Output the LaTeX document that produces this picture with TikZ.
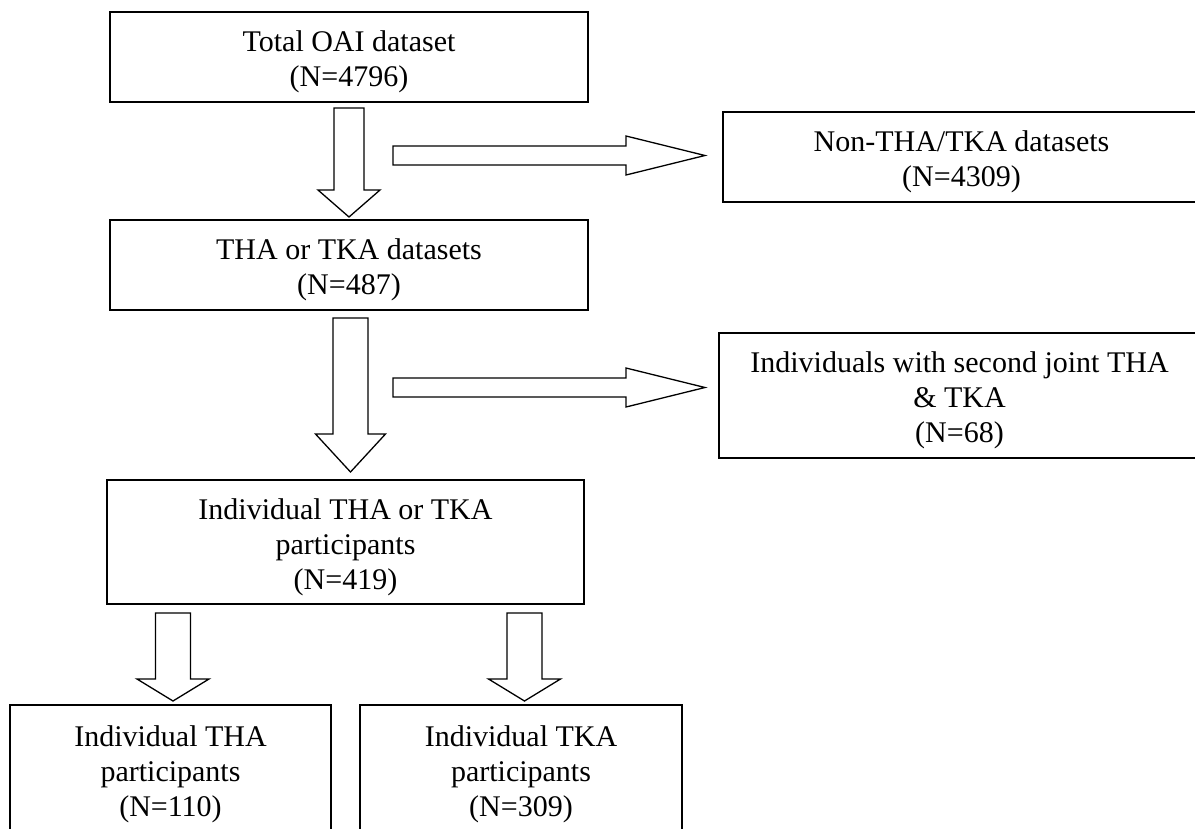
\documentclass[tikz,border=0pt]{standalone}
\usepackage{fontspec}
\setmainfont{Liberation Serif}
\newcommand\vblock[7]{% cx, half shaft, half head, top, head start, tip, name
  \draw[blockarrow] (#1-#2,#4) -- (#1+#2,#4) -- (#1+#2,#5) -- (#1+#3,#5) -- (#1,#6)
    -- (#1-#3,#5) -- (#1-#2,#5) -- cycle;}
\newcommand\hblock[6]{% cy, half shaft, half head, left, head start, tip
  \draw[blockarrow] (#4,#1-#2) -- (#5,#1-#2) -- (#5,#1-#3) -- (#6,#1) -- (#5,#1+#3)
    -- (#5,#1+#2) -- (#4,#1+#2) -- cycle;}
\newcommand\fl{\rule{0pt}{31pt}}
\begin{document}
\begin{tikzpicture}[x=1pt,y=-1pt,
  box/.style={draw, line width=1.7pt, rectangle, inner sep=0pt, align=center,
    font=\fontsize{30}{35}\selectfont},
  blockarrow/.style={draw, line width=1.3pt, fill=white, line join=miter}]
\useasboundingbox (0,0) rectangle (1195,828);
\clip (0,0) rectangle (1195,828);
\fill[white] (0,0) rectangle (1195,828);

\node[box, minimum width=478pt, minimum height=90pt] (total) at (349,57)
  {\fl Total OAI dataset\\(N=4796)};
\node[box, minimum width=478pt, minimum height=90pt] (thatka) at (349,265)
  {\fl THA or TKA datasets\\(N=487)};
\node[box, minimum width=477pt, minimum height=124pt] (indiv) at (345.5,542)
  {\fl Individual THA or TKA\\participants\\(N=419)};
\node[box, minimum width=477pt, minimum height=90pt] (non) at (961.5,157)
  {\fl Non-THA/TKA datasets\\(N=4309)};
\node[box, minimum width=481pt, minimum height=125pt] (second) at (959.5,395.5)
  {\fl Individuals with second joint THA\\\& TKA\\(N=68)};
\node[box, minimum width=321pt, minimum height=128pt] (tha) at (170.5,769)
  {\fl Individual THA\\participants\\(N=110)};
\node[box, minimum width=322pt, minimum height=128pt] (tka) at (521,769)
  {\fl Individual TKA\\participants\\(N=309)};

% total -> thatka
\vblock{349}{15}{31}{108}{190}{217}{a1}
% thatka -> indiv
\vblock{350.5}{17.5}{35}{318}{434}{472}{a2}
% indiv -> tha
\vblock{173}{17.5}{36}{613}{679}{701}{a3}
% indiv -> tka
\vblock{524.5}{17.5}{36}{613}{679}{701}{a4}
% -> non
\hblock{155.5}{9.5}{19.5}{393}{626}{705}
% -> second
\hblock{387.5}{9.5}{19.5}{393}{626}{705}
\end{tikzpicture}
\end{document}
